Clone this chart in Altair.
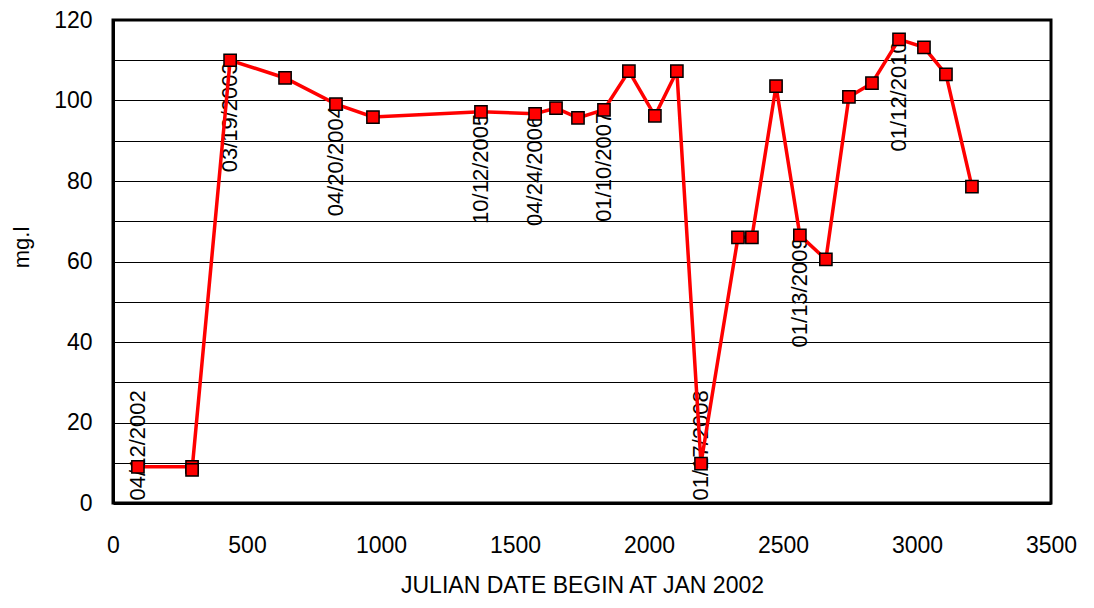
import altair as alt
import pandas as pd

# Julian day (since Jan 2002) and concentration (mg/l)
days = [93, 295, 295, 437, 642, 832, 970, 1373, 1575, 1653, 1735, 1832, 1925,
        2022, 2104, 2194, 2332, 2384, 2474, 2563, 2660, 2746, 2832, 2933, 3026,
        3108, 3205]
mgl = [9.0, 9.0, 8.2, 110.0, 105.6, 99.1, 95.9, 97.2, 96.7, 98.1, 95.7, 97.7,
       107.3, 96.2, 107.3, 9.8, 66.0, 66.0, 103.6, 66.5, 60.5, 100.9, 104.3,
       115.2, 113.2, 106.5, 78.6]

# date labels attached to some points
label_days = [93, 437, 832, 1373, 1575, 1832, 2194, 2563, 2933]
label_vals = [9.0, 110.0, 99.1, 97.2, 96.7, 97.7, 9.8, 66.5, 115.2]
label_text = ["04/12/2002", "03/19/2003", "04/20/2004", "10/12/2005",
              "04/24/2006", "01/10/2007", "01/17/2008", "01/13/2009",
              "01/12/2010"]

x_ticks = [0, 500, 1000, 1500, 2000, 2500, 3000, 3500]
y_ticks = [0, 10, 20, 30, 40, 50, 60, 70, 80, 90, 100, 110, 120]

FONT = "Liberation Sans"

df = pd.DataFrame({"day": days, "mgl": mgl, "order": list(range(len(days)))})
lab = pd.DataFrame({"day": label_days, "val": label_vals, "text": label_text})

xscale = alt.Scale(domain=[0, 3500], nice=False, zero=False)
yscale = alt.Scale(domain=[0, 120], nice=False)

x_axis = alt.Axis(values=x_ticks, format="d", title="JULIAN DATE BEGIN AT JAN 2002",
                  grid=False, tickSize=0, labelPadding=31, titlePadding=17,
                  domainWidth=3, domainColor="black", labelFont=FONT,
                  labelFontSize=23, labelColor="black", titleFont=FONT,
                  titleFontSize=23, titleFontWeight="normal",
                  titleColor="black", labelFlush=False)
y_axis = alt.Axis(values=y_ticks, format="d",
                  labelExpr="datum.value % 20 == 0 ? datum.label : ''",
                  grid=True, gridColor="black", gridWidth=1, gridOpacity=1,
                  tickSize=0, labelPadding=21, domainWidth=3,
                  domainColor="black", labelFont=FONT, labelFontSize=23,
                  labelColor="black", labelFlush=False, title="mg.l",
                  titleFont=FONT, titleFontSize=22, titleFontWeight="normal",
                  titleColor="black", titleAngle=270, titleX=-92, titleY=227,
                  titleAlign="center", titleBaseline="middle")

base = alt.Chart(df).encode(
    x=alt.X("day:Q", scale=xscale, axis=x_axis, title="JULIAN DATE BEGIN AT JAN 2002"),
    y=alt.Y("mgl:Q", scale=yscale, axis=y_axis, title="mg.l"),
)

line = base.mark_line(color="red", strokeWidth=3.5).encode(order="order:Q")
points = base.mark_square(size=150, color="red", stroke="black",
                          strokeWidth=1.5, opacity=1)

labels = (
    alt.Chart(lab)
    .transform_calculate(ly="max(datum.val, 28.5)")
    .mark_text(angle=270, align="right", baseline="middle", font=FONT,
               fontSize=22, color="black", dx=-2)
    .encode(
        x=alt.X("day:Q", scale=xscale, axis=x_axis, title="JULIAN DATE BEGIN AT JAN 2002"),
        y=alt.Y("ly:Q", scale=yscale, axis=y_axis, title="mg.l"),
        text="text:N",
    )
)

chart = (
    alt.layer(labels, line, points)
    .properties(
        width=938, height=483,
        autosize=alt.AutoSizeParams(type="none"),
        padding={"left": 105, "top": 12, "right": 35, "bottom": 97},
    )
    .configure_view(stroke="black", strokeWidth=3)
)

chart.save("out.html", embed_options={"renderer": "svg", "actions": False})
